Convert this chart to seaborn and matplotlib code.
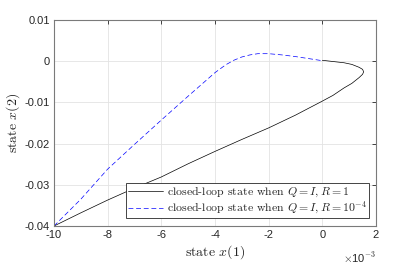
import numpy as np
import pandas as pd
import matplotlib as mpl
mpl.use('Agg')
import matplotlib.pyplot as plt
import seaborn as sns
from matplotlib.ticker import FuncFormatter

# state x(1) is in units of 1e-3 (axis shows x10^-3)
x1_r1 = [-10, -9, -8, -7, -6, -5, -4, -3, -2, -1, 0, 0.4, 0.81, 1.1, 1.37, 1.5, 1.54,
         1.5, 1.37, 1.1, 0.81, 0.4, 0]
x2_r1 = [-0.04, -0.0368, -0.0337, -0.0308, -0.0281, -0.0249, -0.0219, -0.019, -0.0162, -0.0131,
         -0.0097, -0.0083, -0.0065, -0.0054, -0.004, -0.0032, -0.0026,
         -0.002, -0.0015, -0.0008, -0.0004, -0.0001, 0.0002]

x1_r2 = [-10, -9, -8, -7, -6, -5, -4, -3.6, -3.3, -3.0, -2.7, -2.4, -2.0, -1.5, -1.0, -0.5, 0]
x2_r2 = [-0.04, -0.0335, -0.0262, -0.0202, -0.0143, -0.0085, -0.0028, -0.0009, 0.0002, 0.001,
         0.0015, 0.0018, 0.0018, 0.0015, 0.0011, 0.0006, 0.0001]

label_r1 = r'closed-loop state when $Q=I,R=1$'
label_r2 = r'closed-loop state when $Q=I,R=10^{-4}$'

x_ticks = [-10, -8, -6, -4, -2, 0, 2]
y_ticks = [-0.04, -0.03, -0.02, -0.01, 0, 0.01]

df = pd.concat([
    pd.DataFrame({'x1': x1_r1, 'x2': x2_r1, 'series': label_r1}),
    pd.DataFrame({'x1': x1_r2, 'x2': x2_r2, 'series': label_r2}),
])

sns.set_theme(style='whitegrid')
plt.rcParams['font.family'] = ['Liberation Sans', 'DejaVu Sans']
plt.rcParams['mathtext.fontset'] = 'cm'
plt.rcParams['axes.unicode_minus'] = False

fig = plt.figure(figsize=(4.15, 2.65), dpi=100)
ax = fig.add_axes([0.130, 0.147, 0.776, 0.778])

sns.lineplot(data=df, x='x1', y='x2', hue='series', style='series', sort=False, estimator=None,
             palette={label_r1: '#000000', label_r2: '#0000ff'},
             dashes={label_r1: '', label_r2: (7, 4)}, linewidth=0.5, ax=ax)

ax.set_xlim(-10, 2)
ax.set_ylim(-0.04, 0.01)
ax.set_xticks(x_ticks)
ax.set_yticks(y_ticks)
ax.xaxis.set_major_formatter(FuncFormatter(lambda v, p: '%g' % v))
ax.yaxis.set_major_formatter(FuncFormatter(lambda v, p: '%g' % round(v, 4)))
ax.tick_params(direction='in', length=3, width=0.6, colors='#262626', labelsize=8,
               top=True, right=True, pad=3)
ax.grid(True, color='#e3e3e3', linewidth=0.6)
for s in ax.spines.values():
    s.set_color('#7a7a7a')
    s.set_linewidth(0.8)

ax.set_xlabel(r'state $x(1)$', family='cmr10', fontsize=10, labelpad=2, color='#262626')
ax.set_ylabel(r'state $x(2)$', family='cmr10', fontsize=10, labelpad=2, color='#262626')
ax.text(1.0, -0.12, r'$\times$10$^{-3}$', transform=ax.transAxes, ha='right', va='top',
        fontsize=8, color='#262626')

leg = ax.legend(loc='lower right', bbox_to_anchor=(0.977, 0.038), borderaxespad=0,
                prop={'family': 'cmr10', 'size': 8.5}, fancybox=False, framealpha=1,
                edgecolor='#262626', handlelength=3.0, handletextpad=0.3,
                borderpad=0.15, labelspacing=0.1, title=None)
leg.get_frame().set_linewidth(0.6)

fig.savefig('out.png', dpi=100)
